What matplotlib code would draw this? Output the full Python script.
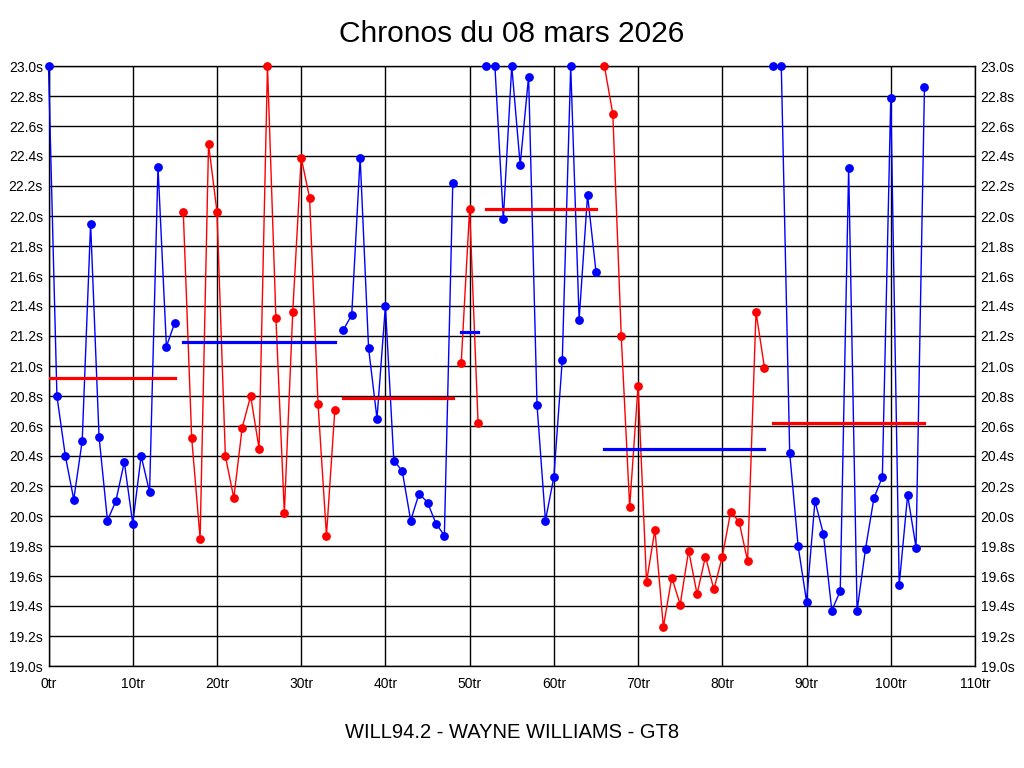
import matplotlib
matplotlib.use('Agg')
from matplotlib import pyplot as plt
from matplotlib.ticker import MultipleLocator, FuncFormatter

# lap times, laps 0..104
times = [23.0, 20.80, 20.40, 20.11, 20.50, 21.95, 20.53, 19.97, 20.10, 20.36,
         19.95, 20.40, 20.16, 22.33, 21.13, 21.29, 22.03, 20.52, 19.85, 22.48,
         22.03, 20.40, 20.12, 20.59, 20.80, 20.45, 23.0, 21.32, 20.02, 21.36,
         22.39, 22.12, 20.75, 19.87, 20.71, 21.24, 21.34, 22.39, 21.12, 20.65,
         21.40, 20.37, 20.30, 19.97, 20.15, 20.09, 19.95, 19.87, 22.22, 21.02,
         22.05, 20.62, 23.0, 23.0, 21.98, 23.0, 22.34, 22.93, 20.74, 19.97,
         20.26, 21.04, 23.0, 21.31, 22.14, 21.63, 23.0, 22.68, 21.20, 20.06,
         20.87, 19.56, 19.91, 19.26, 19.59, 19.41, 19.77, 19.48, 19.73, 19.51,
         19.73, 20.03, 19.96, 19.70, 21.36, 20.99, 23.0, 23.0, 20.42, 19.80,
         19.43, 20.10, 19.88, 19.37, 19.50, 22.32, 19.37, 19.78, 20.12, 20.26,
         22.79, 19.54, 20.14, 19.79, 22.86]
laps = list(range(len(times)))

# stints (first lap, last lap) and their average line
stint_start = [0, 16, 35, 49, 52, 66, 86]
stint_end = [15, 34, 48, 51, 65, 85, 104]
stint_avg = [20.92, 21.16, 20.79, 21.23, 22.05, 20.45, 20.62]

plt.rcParams['font.family'] = ['Liberation Sans', 'DejaVu Sans']

fig = plt.figure(figsize=(10.24, 7.68), dpi=100)
ax = fig.add_axes([48.5/1024, 1-666/768, (975-48.5)/1024, 600/768])

for i in range(len(stint_start)):
    a, b = stint_start[i], stint_end[i]
    col = 'blue' if i % 2 == 0 else 'red'
    avg_col = 'red' if i % 2 == 0 else 'blue'
    ax.plot(laps[a:b+1], times[a:b+1], color=col, lw=1.0, marker='o',
            markersize=5.3, clip_on=False, zorder=3)
    ax.plot([a, b], [stint_avg[i]]*2, color=avg_col, lw=2.3, zorder=4)

ax.set_xlim(0, 110)
ax.set_ylim(19.0, 23.0)
ax.xaxis.set_major_locator(MultipleLocator(10))
ax.yaxis.set_major_locator(MultipleLocator(0.2))
ax.xaxis.set_major_formatter(FuncFormatter(lambda v, p: '%dtr' % round(v)))
ax.yaxis.set_major_formatter(FuncFormatter(lambda v, p: '%.1fs' % v))
ax.grid(True, color='black', lw=1.0)
ax.set_axisbelow(True)
ax.tick_params(length=0, labelsize=10, pad=4, right=True, labelright=True)
ax.tick_params(axis='x', pad=8)
for s in ax.spines.values():
    s.set_color('black')
    s.set_linewidth(1.0)

fig.text(0.5, 1-34/768, 'Chronos du 08 mars 2026', ha='center', va='center', fontsize=21.5)
fig.text(0.5, 1-733/768, 'WILL94.2 - WAYNE WILLIAMS - GT8', ha='center', va='center', fontsize=14.5)

plt.savefig('out.png', dpi=100, facecolor='white')
